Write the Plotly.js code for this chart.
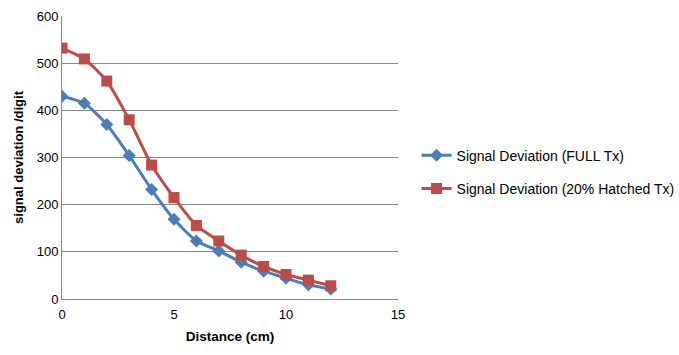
<!DOCTYPE html>
<html><head><meta charset="utf-8">
<script src="https://cdn.plot.ly/plotly-3.0.1.min.js"></script>
<style>html,body{margin:0;padding:0;background:#fff}#c{width:679px;height:355px}</style>
</head><body><div id="c"></div>
<script>
const distance = [0,1,2,3,4,5,6,7,8,9,10,11,12];
const fullTx = [430,415,370,304,232,169,123,102,78,59,44,30,21];
const hatchedTx = [532,509,462,380,284,215,156,123,93,69,52,40,28];
const seriesNames = ["Signal Deviation (FULL Tx)","Signal Deviation (20% Hatched Tx)"];

const traces = [
  {x: distance, y: fullTx, name: seriesNames[0], type: 'scatter', mode: 'lines+markers',
   line: {color: '#4A7EBB', width: 3, shape: 'spline', smoothing: 0.6},
   marker: {symbol: 'diamond', size: 10, color: '#4A7EBB'}, legendgroup: 'a'},
  {x: distance, y: hatchedTx, name: seriesNames[1], type: 'scatter', mode: 'lines+markers',
   line: {color: '#BE4B48', width: 3, shape: 'spline', smoothing: 0.6},
   marker: {symbol: 'square', size: 11, color: '#BE4B48'}, legendgroup: 'b'}
];
const layout = {
  width: 679, height: 355,
  margin: {l: 62, r: 281, t: 16, b: 56},
  paper_bgcolor: '#fff', plot_bgcolor: '#fff',
  font: {family: 'Liberation Sans, Arial, sans-serif', size: 13, color: '#000'},
  xaxis: {range: [0, 15], tickvals: [0,5,10,15], showgrid: false, zeroline: false,
    showline: true, linecolor: '#888', linewidth: 1, ticks: 'outside', ticklen: 3, tickcolor: 'rgba(0,0,0,0)',
    title: {text: '<b>Distance (cm)</b>', font: {size: 13.5}, standoff: 10}},
  yaxis: {range: [0, 600], tickvals: [0,100,200,300,400,500,600], showgrid: true,
    gridcolor: '#888', gridwidth: 1, zeroline: false, showline: true, linecolor: '#888',
    ticks: '', title: {text: '<b>signal deviation /digit</b>', font: {size: 13}, standoff: 10}},
  legend: {xref: 'container', yref: 'container', x: 0.6135, y: 0.515, xanchor: 'left', yanchor: 'middle',
    traceorder: 'grouped', tracegroupgap: 12, itemwidth: 30, font: {size: 14}, bgcolor: 'rgba(0,0,0,0)'},
  showlegend: true
};
Plotly.newPlot('c', traces, layout, {displayModeBar: false, staticPlot: true});
</script></body></html>
